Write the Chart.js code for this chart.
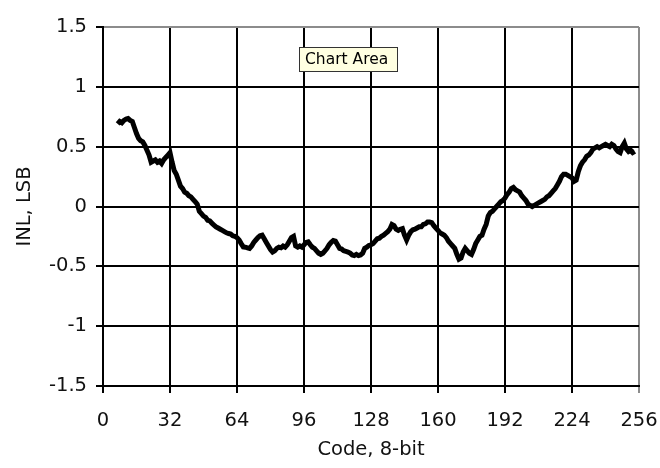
<!DOCTYPE html>
<html>
<head>
<meta charset="utf-8">
<script src="https://cdn.jsdelivr.net/npm/chart.js@4"></script>
<style>
  body { margin: 0; background: #fff; }
  canvas { display: block; }
</style>
</head>
<body>
<canvas id="inlChart" width="660" height="468"></canvas>
<script>
// codes on the x axis (8-bit)
const codes = [
  7, 8, 9, 10, 11, 12, 13, 14, 15, 16,
  17, 18, 19, 20, 21, 22, 23, 24, 25, 26,
  27, 28, 29, 30, 31, 32, 33, 34, 35, 36,
  37, 38, 39, 40, 41, 42, 43, 44, 45, 46,
  47, 48, 49, 50, 51, 52, 53, 54, 55, 56,
  57, 58, 59, 60, 61, 62, 63, 64, 65, 66,
  67, 68, 69, 70, 71, 72, 73, 74, 75, 76,
  77, 78, 79, 80, 81, 82, 83, 84, 85, 86,
  87, 88, 89, 90, 91, 92, 93, 94, 95, 96,
  97, 98, 99, 100, 101, 102, 103, 104, 105, 106,
  107, 108, 109, 110, 111, 112, 113, 114, 115, 116,
  117, 118, 119, 120, 121, 122, 123, 124, 125, 126,
  127, 128, 129, 130, 131, 132, 133, 134, 135, 136,
  137, 138, 139, 140, 141, 142, 143, 144, 145, 146,
  147, 148, 149, 150, 151, 152, 153, 154, 155, 156,
  157, 158, 159, 160, 161, 162, 163, 164, 165, 166,
  167, 168, 169, 170, 171, 172, 173, 174, 175, 176,
  177, 178, 179, 180, 181, 182, 183, 184, 185, 186,
  187, 188, 189, 190, 191, 192, 193, 194, 195, 196,
  197, 198, 199, 200, 201, 202, 203, 204, 205, 206,
  207, 208, 209, 210, 211, 212, 213, 214, 215, 216,
  217, 218, 219, 220, 221, 222, 223, 224, 225, 226,
  227, 228, 229, 230, 231, 232, 233, 234, 235, 236,
  237, 238, 239, 240, 241, 242, 243, 244, 245, 246,
  247, 248, 249, 250, 251, 252, 253, 254
];

// INL in LSB
const inl = [
  0.69, 0.71, 0.70, 0.72, 0.73, 0.735, 0.72, 0.71, 0.66, 0.61,
  0.57, 0.55, 0.54, 0.51, 0.47, 0.43, 0.37, 0.38, 0.39, 0.37,
  0.38, 0.36, 0.39, 0.41, 0.43, 0.45, 0.37, 0.30, 0.27, 0.22,
  0.17, 0.15, 0.12, 0.11, 0.09, 0.08, 0.06, 0.04, 0.02, -0.04,
  -0.06, -0.08, -0.09, -0.115, -0.12, -0.14, -0.155, -0.17, -0.18, -0.19,
  -0.20, -0.21, -0.22, -0.226, -0.23, -0.245, -0.25, -0.26, -0.28, -0.31,
  -0.338, -0.34, -0.345, -0.35, -0.33, -0.30, -0.28, -0.26, -0.245, -0.24,
  -0.27, -0.30, -0.33, -0.36, -0.38, -0.37, -0.35, -0.34, -0.345, -0.33,
  -0.34, -0.32, -0.29, -0.26, -0.25, -0.33, -0.34, -0.33, -0.34, -0.32,
  -0.30, -0.295, -0.32, -0.34, -0.35, -0.37, -0.39, -0.40, -0.39, -0.37,
  -0.35, -0.32, -0.30, -0.285, -0.29, -0.32, -0.35, -0.355, -0.37, -0.375,
  -0.38, -0.39, -0.405, -0.41, -0.40, -0.41, -0.405, -0.39, -0.35, -0.34,
  -0.325, -0.32, -0.31, -0.29, -0.27, -0.265, -0.25, -0.24, -0.225, -0.21,
  -0.19, -0.15, -0.16, -0.19, -0.20, -0.19, -0.185, -0.24, -0.28, -0.24,
  -0.21, -0.195, -0.19, -0.18, -0.17, -0.17, -0.15, -0.145, -0.13, -0.13,
  -0.135, -0.16, -0.18, -0.20, -0.22, -0.23, -0.24, -0.26, -0.29, -0.31,
  -0.33, -0.35, -0.40, -0.44, -0.43, -0.38, -0.35, -0.37, -0.39, -0.40,
  -0.36, -0.31, -0.28, -0.25, -0.24, -0.19, -0.15, -0.08, -0.05, -0.04,
  -0.02, 0.00, 0.02, 0.04, 0.05, 0.07, 0.10, 0.12, 0.15, 0.16,
  0.14, 0.13, 0.12, 0.09, 0.07, 0.05, 0.02, 0.01, 0.00, 0.01,
  0.02, 0.03, 0.04, 0.05, 0.06, 0.08, 0.09, 0.11, 0.13, 0.15,
  0.18, 0.21, 0.25, 0.27, 0.27, 0.26, 0.25, 0.24, 0.21, 0.22,
  0.29, 0.34, 0.37, 0.39, 0.42, 0.43, 0.45, 0.48, 0.49, 0.50,
  0.49, 0.50, 0.51, 0.52, 0.51, 0.50, 0.52, 0.51, 0.48, 0.46,
  0.45, 0.50, 0.53, 0.48, 0.46, 0.47, 0.45, 0.46
];

const xTickLabels = ["0", "32", "64", "96", "128", "160", "192", "224", "256"];
const yTickLabels = ["-1.5", "-1", "-0.5", "0", "0.5", "1", "1.5"];

const fontFamily = "'DejaVu Sans', sans-serif";
const gridEdge = "#8c8c8c";

// little yellow hover box from the original screenshot
const hoverBox = {
  id: "hoverBox",
  afterDraw(chart) {
    const { ctx, chartArea } = chart;
    const x = chartArea.left + 196;
    const y = chartArea.top + 20;
    ctx.save();
    ctx.fillStyle = "#ffffe1";
    ctx.strokeStyle = "#333";
    ctx.lineWidth = 1;
    ctx.fillRect(x, y, 99, 25);
    ctx.strokeRect(x + 0.5, y + 0.5, 98, 24);
    ctx.fillStyle = "#000";
    ctx.font = "15.5px " + fontFamily;
    ctx.textBaseline = "middle";
    ctx.fillText("Chart Area", x + 6, y + 13);
    ctx.restore();
  },
};

const ctx = document.getElementById("inlChart").getContext("2d");

new Chart(ctx, {
  type: "line",
  data: {
    datasets: [
      {
        data: codes.map((c, i) => ({ x: c, y: inl[i] })),
        borderColor: "#000",
        borderWidth: 5,
        pointRadius: 0,
        tension: 0,
        fill: false,
      },
    ],
  },
  options: {
    responsive: false,
    animation: false,
    layout: { padding: { top: 27, right: 21, left: 0, bottom: 0 } },
    plugins: {
      legend: { display: false },
      tooltip: { enabled: false },
    },
    scales: {
      x: {
        type: "linear",
        min: 0,
        max: 256,
        afterBuildTicks: (s) => {
          s.ticks = xTickLabels.map((t) => ({ value: +t }));
        },
        ticks: {
          autoSkip: false,
          maxRotation: 0,
          color: "#111",
          padding: 16,
          font: { family: fontFamily, size: 19.5 },
          callback: (v) => xTickLabels.find((t) => +t === v),
        },
        grid: {
          color: (c) => (c.tick && c.tick.value === 256 ? gridEdge : "#000"),
          tickColor: (c) => (c.tick && c.tick.value === 256 ? gridEdge : "#000"),
          lineWidth: 2,
          tickLength: 7,
        },
        border: { color: "#000", width: 2 },
        title: {
          display: true,
          text: "Code, 8-bit",
          color: "#111",
          font: { family: fontFamily, size: 19.5 },
          padding: { top: 0, bottom: 6 },
        },
        afterFit: (s) => {
          s.height = 82;
          s.paddingLeft = 0;
          s.paddingRight = 0;
        },
      },
      y: {
        min: -1.5,
        max: 1.5,
        afterBuildTicks: (s) => {
          s.ticks = yTickLabels.map((t) => ({ value: +t }));
        },
        ticks: {
          color: "#111",
          padding: 9,
          font: { family: fontFamily, size: 19.5 },
          callback: (v) => yTickLabels.find((t) => +t === v),
        },
        grid: {
          color: (c) => (c.tick && c.tick.value === 1.5 ? gridEdge : "#000"),
          tickColor: "#000",
          lineWidth: 2,
          tickLength: 7,
        },
        border: { color: "#000", width: 2 },
        title: {
          display: true,
          text: "INL, LSB",
          color: "#111",
          font: { family: fontFamily, size: 19.5 },
          padding: { top: 13, bottom: 0 },
        },
        afterFit: (s) => {
          s.width = 103;
          s.paddingTop = 0;
          s.paddingBottom = 0;
        },
      },
    },
  },
  plugins: [hoverBox],
});
</script>
</body>
</html>
